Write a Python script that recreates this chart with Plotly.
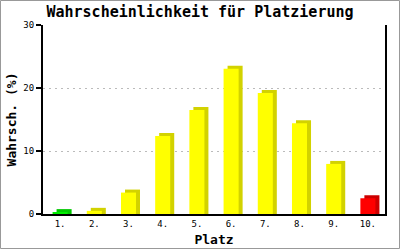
import plotly.graph_objects as go

places = [1, 2, 3, 4, 5, 6, 7, 8, 9, 10]
tick_labels = ["1.", "2.", "3.", "4.", "5.", "6.", "7.", "8.", "9.", "10."]
probabilities = [0.3, 0.5, 3.4, 12.4, 16.5, 23.05, 19.2, 14.4, 7.95, 2.5]
front_colors = ["#00ee00"] + ["#ffff00"] * 8 + ["#ff0000"]
side_colors = ["#00c800"] + ["#d2d200"] * 8 + ["#cc0000"]

# plot area geometry (pixels)
L, R, T, B = 43, 385, 25, 214
W, H = 400, 250
pw, ph = R - L, B - T
ymax = 30
unit_px = ph / ymax
depth_x = 4 / (pw / 10)      # 3D side depth in category units
depth_y = 3 / unit_px        # 3D top depth in value units
bw = 0.44

fig = go.Figure()
fig.add_trace(go.Bar(
    x=places, y=[v + depth_y for v in probabilities],
    width=bw, offset=-bw / 2 + depth_x,
    marker=dict(color=side_colors, line=dict(width=0)),
    hoverinfo="skip", showlegend=False))
fig.add_trace(go.Bar(
    x=places, y=probabilities,
    width=bw, offset=-bw / 2,
    marker=dict(color=front_colors, line=dict(width=0)),
    hoverinfo="skip", showlegend=False))

mono = "DejaVu Sans Mono"
fig.update_layout(
    width=W, height=H,
    margin=dict(l=L, r=W - R, t=T, b=H - B, autoexpand=False),
    paper_bgcolor="white", plot_bgcolor="white",
    barmode="overlay",
    title=dict(text="<b>Wahrscheinlichkeit für Platzierung</b>",
               x=0.5, xref="container", xanchor="center",
               y=1 - 12 / H, yref="container", yanchor="middle",
               font=dict(family=mono, size=15, color="black")),
    xaxis=dict(range=[0.5, 10.5], tickmode="array", tickvals=places,
               ticktext=tick_labels, showgrid=False, zeroline=False,
               showline=True, linecolor="black", linewidth=2,
               ticks="", automargin=False,
               tickfont=dict(family=mono, size=9, color="black"),
               title=dict(text="<b>Platz</b>", standoff=7,
                          font=dict(family=mono, size=13, color="black"))),
    yaxis=dict(range=[0, ymax], tickvals=[0, 10, 20, 30],
               showgrid=True, gridcolor="#bbbbbb", griddash="2px,4px",
               gridwidth=1, zeroline=False, automargin=False,
               showline=True, mirror=True, linecolor="black", linewidth=2,
               ticks="outside", ticklen=5, tickcolor="black", tickwidth=2,
               tickfont=dict(family=mono, size=9, color="black"),
               title=dict(text="<b>Wahrsch. (%)</b>", standoff=4,
                          font=dict(family=mono, size=13, color="black"))),
    shapes=[dict(type="rect", xref="paper", yref="paper",
                 x0=(0.5 - L) / pw, x1=(399.5 - L) / pw,
                 y0=(B - 248.5) / ph, y1=(B - 0.5) / ph,
                 line=dict(color="#999999", width=1), layer="below")],
)

fig.write_html("out.html")
